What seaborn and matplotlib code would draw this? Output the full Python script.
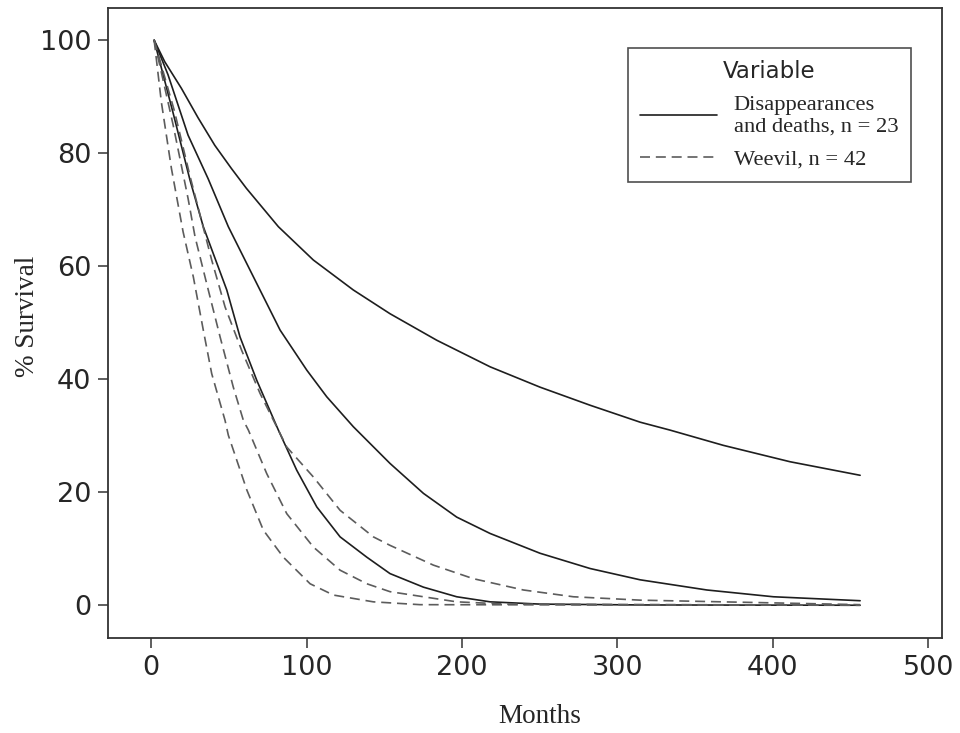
import matplotlib
matplotlib.use("Agg")
import matplotlib.pyplot as plt
from matplotlib.lines import Line2D
import numpy as np
import pandas as pd
import seaborn as sns

# Survival curves (% survival vs. months) for each fitted group
months_a = [2, 8.8, 19.5, 30.2, 41.0, 51.7, 61.3, 81.9, 104.4, 130.1, 153.7, 183.8, 218.1, 250.2, 282.4, 314.6, 333.8, 368.1, 411.0, 456.1]
surv_a = [100, 96.2, 91.5, 86.3, 81.4, 77.3, 73.8, 67.0, 61.1, 55.8, 51.6, 46.9, 42.2, 38.6, 35.4, 32.4, 31.0, 28.3, 25.4, 23.0]

months_b = [2, 10.9, 23.8, 36.7, 49.7, 63.7, 83.0, 100.2, 113.0, 130.1, 153.7, 175.2, 196.6, 218.1, 250.2, 282.4, 314.6, 357.5, 400.3, 456.1]
surv_b = [100, 93.9, 83.2, 75.5, 67.0, 59.3, 48.7, 41.6, 36.9, 31.6, 25.1, 19.8, 15.6, 12.7, 9.2, 6.5, 4.5, 2.7, 1.5, 0.8]

months_c = [2, 14.3, 25.1, 33.6, 48.7, 57.2, 68.0, 81.9, 93.7, 106.6, 121.6, 138.8, 153.7, 175.2, 196.6, 218.1, 250.2, 314.6, 456.1]
surv_c = [100, 87.0, 75.2, 67.0, 55.8, 47.5, 39.8, 31.0, 23.9, 17.4, 12.1, 8.5, 5.6, 3.2, 1.5, 0.6, 0.2, 0.05, 0.0]

months_d1 = [2, 15.0, 25.0, 39.0, 47.6, 58.3, 70.1, 87.3, 104.4, 121.6, 143.0, 153.7, 181.6, 207.3, 239.5, 271.6, 314.6, 456.1]
surv_d1 = [100, 87.5, 76.0, 61.1, 52.8, 45.1, 37.5, 28.0, 22.7, 16.8, 12.1, 10.6, 7.1, 4.7, 2.7, 1.5, 0.9, 0.1]

months_d2 = [2, 14.2, 23.8, 28.3, 35.8, 44.4, 52.9, 59.4, 62.6, 74.4, 87.3, 104.4, 121.6, 138.8, 153.7, 175.2, 196.6, 228.8, 456.1]
surv_d2 = [100, 85.0, 72.0, 65.2, 56.9, 47.5, 38.6, 32.7, 31.0, 23.3, 16.2, 10.3, 6.2, 3.8, 2.4, 1.5, 0.6, 0.2, 0.0]

months_d3 = [2, 6.6, 13.1, 20.6, 27.2, 33.6, 39.0, 47.6, 49.7, 61.6, 72.2, 85.1, 102.3, 117.3, 143.0, 173.0, 456.1]
surv_d3 = [100, 89.1, 77.3, 66.1, 58.1, 48.7, 41.0, 32.7, 30.1, 20.4, 13.3, 8.5, 3.8, 1.8, 0.6, 0.1, 0.0]

label_solid = "Disappearances\nand deaths, n = 23"
label_dash = "Weevil, n = 42"

curves = [
    ("a", label_solid, months_a, surv_a),
    ("b", label_solid, months_b, surv_b),
    ("c", label_solid, months_c, surv_c),
    ("d1", label_dash, months_d1, surv_d1),
    ("d2", label_dash, months_d2, surv_d2),
    ("d3", label_dash, months_d3, surv_d3),
]
frames = []
for cid, var, mx, sy in curves:
    frames.append(pd.DataFrame({"Months": mx, "Survival": sy, "Variable": var, "curve": cid}))
df = pd.concat(frames, ignore_index=True)

sns.set_style("ticks")
plt.rcParams["font.family"] = ["DejaVu Sans"]

fig = plt.figure(figsize=(9.6, 7.33), dpi=100)
ax = fig.add_axes([0.1125, 0.1296, 0.8688, 0.8594])

solid_col = "#1e1e1e"
dash_col = "#5c5c5c"
sns.lineplot(
    data=df, x="Months", y="Survival", hue="Variable", style="Variable",
    units="curve", estimator=None, sort=False, ax=ax,
    palette={label_solid: solid_col, label_dash: dash_col},
    dashes={label_solid: "", label_dash: (6, 3.5)},
    linewidth=1.2, legend=False,
)

ax.set_xlim(-27.7, 508.8)
ax.set_ylim(-5.8, 105.7)
ax.set_xticks([0, 100, 200, 300, 400, 500])
ax.set_yticks([0, 20, 40, 60, 80, 100])
ax.tick_params(axis="both", labelsize=19.5, length=7, width=1.1, color="#333333", pad=5)
for sp in ax.spines.values():
    sp.set_visible(True)
    sp.set_color("#333333")
    sp.set_linewidth(1.3)

ax.set_xlabel("Months", family="Liberation Serif", fontsize=19.5, va="center")
ax.set_ylabel("% Survival", family="Liberation Serif", fontsize=19.5, va="center")
ax.xaxis.set_label_coords(0.518, -0.125)
ax.yaxis.set_label_coords(-0.096, 0.511)

handles = [
    Line2D([], [], color=solid_col, lw=1.2),
    Line2D([], [], color=dash_col, lw=1.2, dashes=(6, 3.5)),
]
leg = ax.legend(
    handles, [label_solid, label_dash], title="Variable",
    loc="upper left", bbox_to_anchor=(0.6235, 0.9365),
    prop={"family": "Liberation Serif", "size": 16.2},
    title_fontproperties={"family": "DejaVu Sans", "size": 16.5},
    frameon=True, fancybox=False, edgecolor="#222222",
    handlelength=3.4, handletextpad=0.75, borderpad=0.55,
    labelspacing=0.55, borderaxespad=0,
)
leg.get_frame().set_linewidth(1.2)

fig.savefig("out.png", dpi=100)
